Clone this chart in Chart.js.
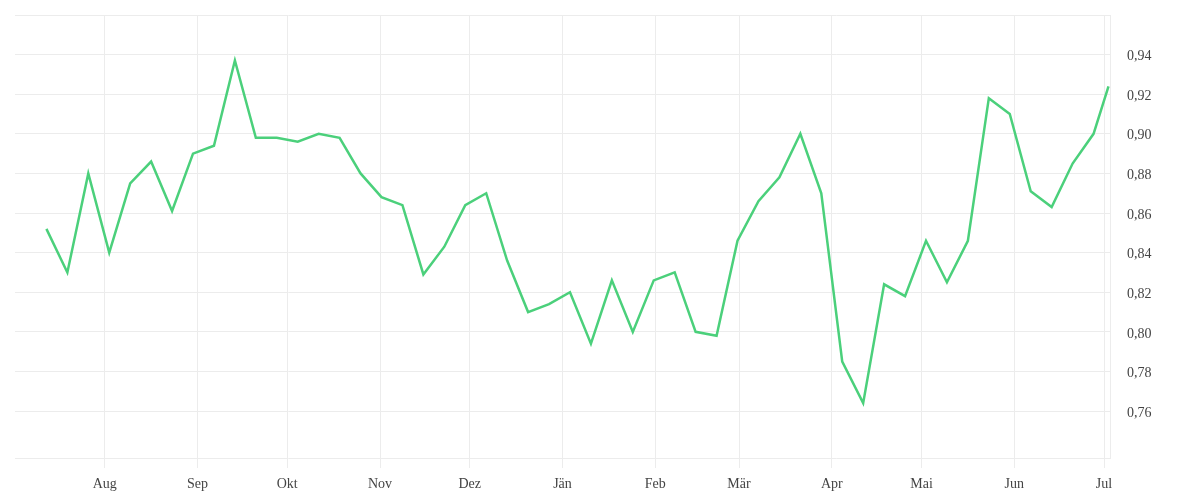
<!DOCTYPE html>
<html>
<head>
<meta charset="utf-8">
<script src="https://cdn.jsdelivr.net/npm/chart.js@4/dist/chart.umd.min.js"></script>
<style>
html,body{margin:0;padding:0;background:#fff;}
#wrap{width:1200px;height:500px;position:relative;}
</style>
</head>
<body>
<div id="wrap"><canvas id="c" width="1200" height="500"></canvas></div>
<script>
const dates = [
 '2022-07-12','2022-07-19','2022-07-26','2022-08-02','2022-08-09','2022-08-16','2022-08-23','2022-08-30',
 '2022-09-06','2022-09-13','2022-09-20','2022-09-27','2022-10-04','2022-10-11','2022-10-18','2022-10-25',
 '2022-11-01','2022-11-08','2022-11-15','2022-11-22','2022-11-29','2022-12-06','2022-12-13','2022-12-20',
 '2022-12-27','2023-01-03','2023-01-10','2023-01-17','2023-01-24','2023-01-31','2023-02-07','2023-02-14',
 '2023-02-21','2023-02-28','2023-03-07','2023-03-14','2023-03-21','2023-03-28','2023-04-04','2023-04-11',
 '2023-04-18','2023-04-25','2023-05-02','2023-05-09','2023-05-16','2023-05-23','2023-05-30','2023-06-06',
 '2023-06-13','2023-06-20','2023-06-27','2023-07-02'
];
const values = [
 0.852,0.830,0.880,0.840,0.875,0.886,0.861,0.890,
 0.894,0.937,0.898,0.898,0.896,0.900,0.898,0.880,
 0.868,0.864,0.829,0.843,0.864,0.870,0.836,0.810,
 0.814,0.820,0.794,0.826,0.800,0.826,0.830,0.800,
 0.798,0.846,0.866,0.878,0.900,0.870,0.785,0.764,
 0.824,0.818,0.846,0.825,0.846,0.918,0.910,0.871,
 0.863,0.885,0.900,0.924
];
const monthStarts = ['2022-08-01','2022-09-01','2022-10-01','2022-11-01','2022-12-01','2023-01-01',
 '2023-02-01','2023-03-01','2023-04-01','2023-05-01','2023-06-01','2023-07-01'];
const monthLabels = ['Aug','Sep','Okt','Nov','Dez','Jän','Feb','Mär','Apr','Mai','Jun','Jul'];
const yTicks = [0.76,0.78,0.80,0.82,0.84,0.86,0.88,0.90,0.92,0.94,0.96];
const yMin = 0.7363, yMax = 0.96;
const xStart = '2022-07-02', xEnd = '2023-07-03';

const ORIGIN = Date.parse('2022-08-01T00:00:00Z');
const day = s => (Date.parse(s + 'T00:00:00Z') - ORIGIN) / 86400000;
const pts = dates.map((d, i) => ({x: day(d) + 0.5, y: values[i]}));
const mTickVals = monthStarts.map(day);
const grid = '#ececec';
const font = {family: '"Liberation Serif", serif', size: 14};

new Chart(document.getElementById('c'), {
  type: 'line',
  data: {datasets: [{data: pts, borderColor: '#4bd07b', borderWidth: 2.5, pointRadius: 0,
    tension: 0, fill: false}]},
  options: {
    responsive: false, animation: false,
    layout: {padding: {left: 15, top: 15, right: 0, bottom: 0}},
    plugins: {legend: {display: false}, tooltip: {enabled: false}},
    scales: {
      x: {
        type: 'linear', min: day(xStart), max: day(xEnd),
        afterBuildTicks: ax => { ax.ticks = mTickVals.map(v => ({value: v})); },
        afterFit: ax => { ax.height = 42; ax.paddingLeft = 0; ax.paddingRight = 0; },
        ticks: {autoSkip: false, maxRotation: 0, color: '#444', font, padding: 8,
          callback: (v) => { const i = mTickVals.indexOf(v); return i >= 0 ? monthLabels[i] : ''; }},
        grid: {color: grid, lineWidth: 1, tickLength: 10, drawOnChartArea: true},
        border: {display: false}
      },
      y: {
        position: 'right', min: yMin, max: yMax,
        afterBuildTicks: ax => { ax.ticks = [yMin].concat(yTicks).map(v => ({value: v})); },
        afterFit: ax => { ax.width = 90; ax.paddingTop = 0; ax.paddingBottom = 0; },
        ticks: {color: '#444', font, padding: 17, labelOffset: 2,
          callback: (v) => (v > 0.75 && v < 0.95) ? v.toFixed(2).replace('.', ',') : ''},
        grid: {color: grid, lineWidth: 1, drawTicks: false},
        border: {display: true, color: grid}
      }
    }
  }
});
</script>
</body>
</html>
